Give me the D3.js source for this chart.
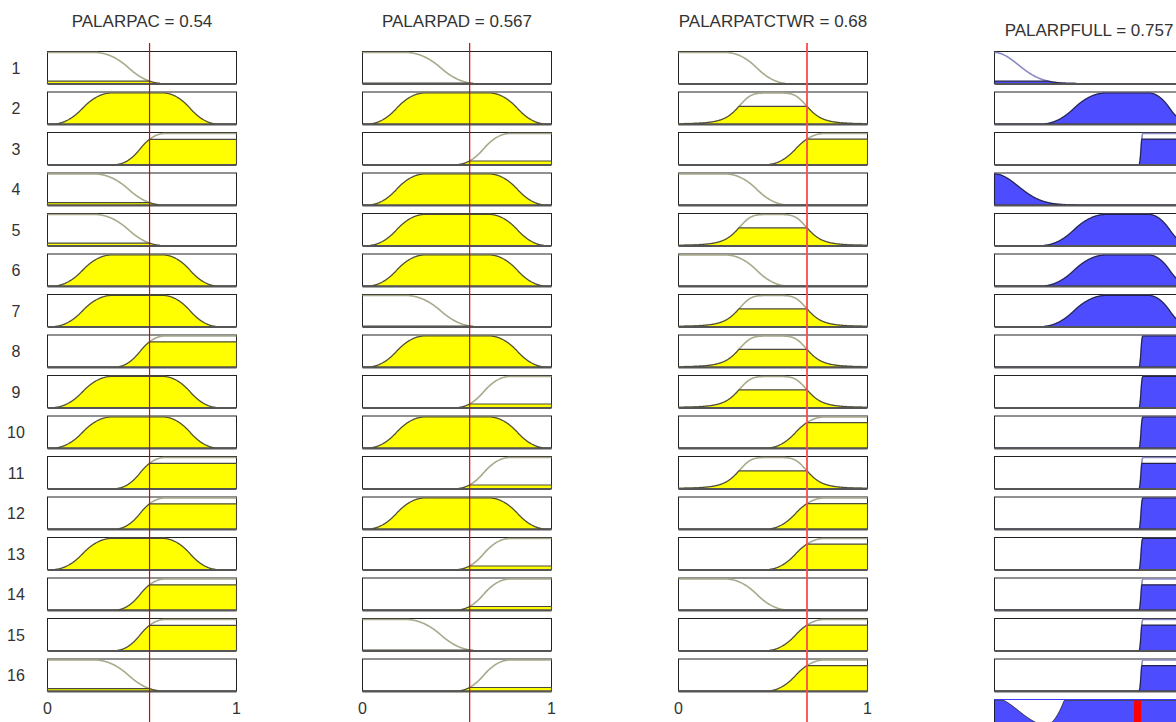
<!DOCTYPE html>
<html>
<head>
<meta charset="utf-8">
<script src="https://cdn.jsdelivr.net/npm/d3@7"></script>
<style>
body { margin: 0; background: #fff; }
text { font-family: "Liberation Sans", Arial, sans-serif; fill: #333; }
</style>
</head>
<body>
<div class="chart"></div>
<script>
// variables and their crisp values
var inputNames = ["PALARPAC", "PALARPAD", "PALARPATCTWR"];
var inputValues = [0.54, 0.567, 0.68];
var outputName = "PALARPFULL";
var outputValue = 0.757;

// membership functions of each variable (low / mid / high)
var mfAC   = { L: ["zmf", [0.25, 0.61]], M: ["pimf", [0.03, 0.34, 0.61, 0.9]],  H: ["smf", [0.36, 0.62]] };
var mfAD   = { L: ["zmf", [0.23, 0.6]],  M: ["pimf", [0.03, 0.33, 0.67, 0.97]], H: ["smf", [0.5, 0.78]] };
var mfTCWR = { L: ["zmf", [0.25, 0.58]], M: ["gbellmf", [0.19, 2.5, 0.5]],      H: ["smf", [0.47, 0.77]] };
var mfFULL = { L: ["gaussmf", [0.125, 0]], M: ["pimf", [0.25, 0.59, 0.815, 1.04]], H: ["smf", [0.765, 0.785]] };

// the 16 rules, one term per variable
var ruleAC   = ["L","M","H","L","L","M","M","H","M","M","H","H","M","H","H","L"];
var ruleAD   = ["L","M","H","M","M","M","L","M","H","M","H","M","H","H","L","H"];
var ruleTCWR = ["L","M","H","L","M","L","M","M","M","H","M","H","H","L","H","H"];
var ruleFULL = ["L","M","H","L","M","M","M","H","H","H","H","H","H","H","H","H"];

var tickLabels = ["0", "1"];

var inputMfs = [mfAC, mfAD, mfTCWR];
var inputRules = [ruleAC, ruleAD, ruleTCWR];

function zmf(x, p) {
	var a = p[0], b = p[1];
	if (x <= a) return 1;
	if (x >= b) return 0;
	if (x <= (a + b) / 2) return 1 - 2 * Math.pow((x - a) / (b - a), 2);
	return 2 * Math.pow((x - b) / (b - a), 2);
}

function evalMf(mf, x) {
	var type = mf[0], p = mf[1];
	if (type === "zmf") return zmf(x, p);
	if (type === "smf") return 1 - zmf(x, p);
	if (type === "pimf") return (1 - zmf(x, [p[0], p[1]])) * zmf(x, [p[2], p[3]]);
	if (type === "gaussmf") return Math.exp(-Math.pow(x - p[1], 2) / (2 * p[0] * p[0]));
	if (type === "gbellmf") return 1 / (1 + Math.pow(Math.abs((x - p[2]) / p[0]), 2 * p[1]));
	return 0;
}

var W = 1176, H = 722;
var colX = [47.5, 362.5, 678.5, 994.5];
var boxW = 189, boxH = 32;
var rowTop = function(i) { return 51.5 + i * 40.5; };

var xs = d3.range(0, 1.00001, 0.0025);

var svg = d3.select(".chart").append("svg")
	.attr("width", W)
	.attr("height", H);

function drawBox(g, col, top, mf, w, colors) {
	var x = d3.scaleLinear().domain([0, 1]).range([colX[col], colX[col] + boxW]);
	var y = d3.scaleLinear().domain([0, 1]).range([top + boxH, top + 1]);

	g.append("rect")
		.attr("x", colX[col])
		.attr("y", top)
		.attr("width", boxW)
		.attr("height", boxH)
		.attr("fill", "#fff")
		.attr("stroke", "#222")
		.attr("stroke-width", 1);

	var full = xs.map(function(t) { return [t, evalMf(mf, t)]; });
	var clip = xs.map(function(t) { return [t, Math.min(evalMf(mf, t), w)]; });

	var line = d3.line()
		.x(function(d) { return x(d[0]); })
		.y(function(d) { return y(d[1]); });
	var area = d3.area()
		.x(function(d) { return x(d[0]); })
		.y0(y(0))
		.y1(function(d) { return y(d[1]); });

	g.append("path")
		.attr("d", line(full.filter(function(d) { return d[1] > 0.003; })))
		.attr("fill", "none")
		.attr("stroke", colors.outline)
		.attr("stroke-width", 1.6);

	g.append("path")
		.attr("d", area(clip))
		.attr("fill", colors.fill)
		.attr("stroke", colors.edge)
		.attr("stroke-width", 1.1);

	// thick bottom edge
	g.append("line")
		.attr("x1", colX[col]).attr("x2", colX[col] + boxW)
		.attr("y1", top + boxH + 0.5).attr("y2", top + boxH + 0.5)
		.attr("stroke", "#555")
		.attr("stroke-width", 2);
}

var inColors = { fill: "#ffff00", outline: "#a9a98c", edge: "#4a4a3a" };
var outColors = { fill: "#4d4dff", outline: "#8a8ac4", edge: "#22224a" };

var g = svg.append("g");
var weights = [];

ruleFULL.forEach(function(term, i) {
	var top = rowTop(i);
	var degs = inputRules.map(function(rule, c) {
		return evalMf(inputMfs[c][rule[i]], inputValues[c]);
	});
	degs.forEach(function(dg, c) {
		drawBox(g, c, top, inputMfs[c][inputRules[c][i]], dg, inColors);
	});
	// OR of the antecedents
	var w = d3.max(degs);
	weights.push(w);
	drawBox(g, 3, top, mfFULL[term], w, outColors);

	g.append("text")
		.attr("x", 16)
		.attr("y", top + boxH / 2 + 6)
		.attr("text-anchor", "middle")
		.style("font-size", "16px")
		.text(i + 1);
});

// aggregated output (sum, clipped at 1)
var aggTop = rowTop(16);
var xo = d3.scaleLinear().domain([0, 1]).range([colX[3], colX[3] + boxW]);
var yo = d3.scaleLinear().domain([0, 1]).range([aggTop + boxH, aggTop + 1]);
var agg = xs.map(function(t) {
	var s = d3.sum(ruleFULL, function(term, i) { return Math.min(evalMf(mfFULL[term], t), weights[i]); });
	return [t, Math.min(s, 1)];
});
g.append("rect")
	.attr("x", colX[3]).attr("y", aggTop)
	.attr("width", boxW).attr("height", boxH)
	.attr("fill", "#fff")
	.attr("stroke", "#3a3aff");
g.append("path")
	.attr("d", d3.area().x(function(d) { return xo(d[0]); }).y0(yo(0)).y1(function(d) { return yo(d[1]); })(agg))
	.attr("fill", outColors.fill)
	.attr("stroke", "#111")
	.attr("stroke-width", 0.8);
g.append("rect")
	.attr("x", xo(outputValue) - 3.5)
	.attr("y", aggTop + 1)
	.attr("width", 7)
	.attr("height", boxH)
	.attr("fill", "#ff0000");

// crisp input lines, titles and ticks
inputNames.forEach(function(name, c) {
	var x = d3.scaleLinear().domain([0, 1]).range([colX[c], colX[c] + boxW]);
	svg.append("line")
		.attr("x1", x(inputValues[c])).attr("x2", x(inputValues[c]))
		.attr("y1", 43).attr("y2", H)
		.attr("stroke", c === 2 ? "#ff4a4a" : "#e00000")
		.attr("stroke-width", c === 2 ? 1.8 : 1.2);

	svg.append("text")
		.attr("x", colX[c] + boxW / 2)
		.attr("y", 27)
		.attr("text-anchor", "middle")
		.style("font-size", "17px")
		.text(name + " = " + inputValues[c]);

	tickLabels.forEach(function(t, k) {
		svg.append("text")
			.attr("x", x(k))
			.attr("y", 714)
			.attr("text-anchor", "middle")
			.style("font-size", "16px")
			.text(t);
	});
});

svg.append("text")
	.attr("x", colX[3] + boxW / 2)
	.attr("y", 36)
	.attr("text-anchor", "middle")
	.style("font-size", "17px")
	.text(outputName + " = " + outputValue);
</script>
</body>
</html>
